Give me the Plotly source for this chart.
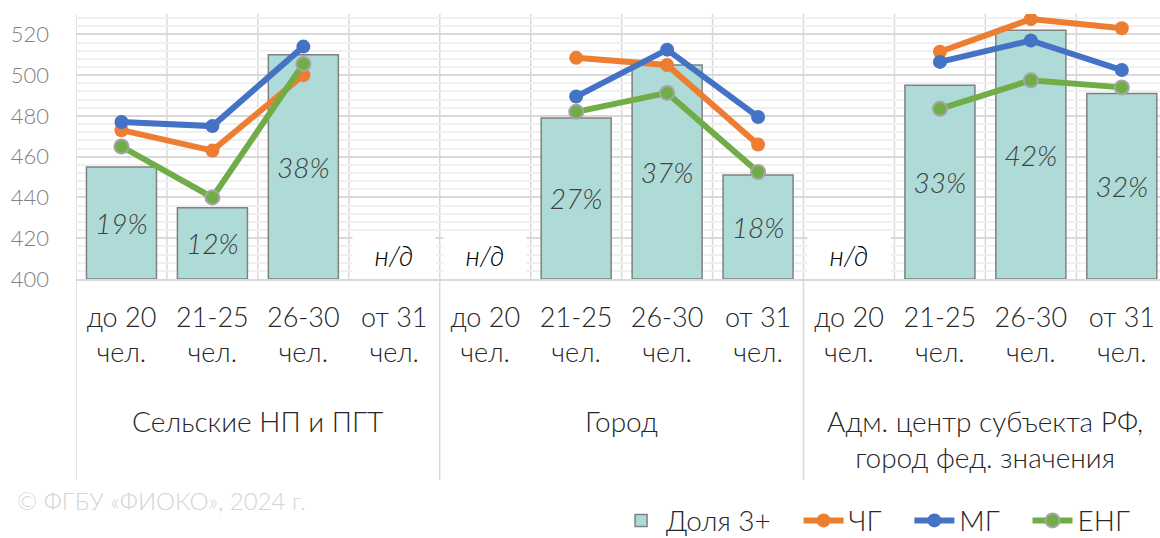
import plotly.graph_objects as go

# ---------------- data ----------------
groups = ["Сельские НП и ПГТ", "Город", "Адм. центр субъекта РФ,<br>город фед. значения"]
sizes = ["до 20<br>чел.", "21-25<br>чел.", "26-30<br>чел.", "от 31<br>чел."]

# bar heights on the score scale (Доля 3+), None = н/д
bar_score = [455, 435, 510, None,
             None, 479, 505, 451,
             None, 495, 522, 491]
share_pct = [19, 12, 38, None,
             None, 27, 37, 18,
             None, 33, 42, 32]
chg = [473, 463, 500, None,
       None, 508.5, 505, 466,
       None, 511.5, 527.5, 523]
mg = [477, 475, 514, None,
      None, 489.5, 512.5, 479.5,
      None, 506.5, 517, 502.5]
eng = [465, 440, 505.5, None,
       None, 482, 491.3, 452.5,
       None, 483.5, 497.5, 494]

series_names = ["Доля 3+", "ЧГ", "МГ", "ЕНГ"]
NA_TEXT = "н/д"
BASE = 400

FONT = "Lato"
TXT = "#262626"
GRID = "#d9d9d9"
PAD = "\u00a0\u00a0\u00a0"   # extra legend spacing

n_cat = len(groups) * len(sizes)
xs = list(range(n_cat))
tick_text = [s for _ in groups for s in sizes]

fig = go.Figure()

fig.add_trace(go.Bar(
    x=xs,
    y=[(v - BASE) if v is not None else None for v in bar_score],
    base=BASE,
    name=series_names[0] + PAD,
    width=0.77,
    marker=dict(color="#aedbd7", line=dict(color="#808080", width=1.5)),
    text=[f"{p}%" if p is not None else "" for p in share_pct],
    textposition="inside",
    insidetextanchor="middle",
    constraintext="none",
    textangle=0,
    textfont=dict(family=FONT, size=28, color="#404040", style="italic", weight=300),
    hoverinfo="skip",
))

line_specs = [
    (series_names[1], chg, "#ed7d31", None),
    (series_names[2], mg, "#4472c4", None),
    (series_names[3], eng, "#70ad47", "#a5a5a5"),
]
for k, (name, vals, col, mline) in enumerate(line_specs):
    fig.add_trace(go.Scatter(
        x=xs, y=vals, name=name + (PAD if k < 2 else ""), mode="lines+markers",
        connectgaps=False,
        line=dict(color=col, width=6),
        marker=dict(size=14, color=col,
                    line=dict(color=mline if mline else col, width=2 if mline else 0)),
    ))

# н/д labels
for i, v in enumerate(bar_score):
    if v is None:
        fig.add_annotation(
            x=i, y=412, xref="x", yref="y", text=NA_TEXT, showarrow=False,
            bgcolor="white", width=80, height=35,
            font=dict(family=FONT, size=28, color="#000000", style="italic", weight=300),
        )

# vertical gridlines at category boundaries, group dividers extend down
per = len(sizes)
for b in range(n_cat + 1):
    xb = b - 0.5
    is_group = (b % per == 0)
    fig.add_shape(type="line", xref="x", yref="paper", x0=xb, x1=xb,
                  y0=-0.758 if is_group else 0, y1=1,
                  line=dict(color=GRID, width=1.5), layer="below")

# group labels
for gi, g in enumerate(groups):
    fig.add_annotation(
        x=gi * per + (per - 1) / 2, y=-0.466, xref="x", yref="paper",
        text=g, showarrow=False, yanchor="top", align="center",
        font=dict(family=FONT, size=28, color=TXT, weight=300),
    )

# watermark
fig.add_annotation(
    x=-0.0563, y=-0.898, xref="paper", yref="paper", xanchor="left",
    text="© ФГБУ «ФИОКО», 2024 г.", showarrow=False,
    font=dict(family=FONT, size=24, color="#d4d4d4", weight=300),
)

fig.update_layout(
    width=1160, height=538,
    margin=dict(l=76, r=0, t=14, b=259, autoexpand=False),
    paper_bgcolor="white", plot_bgcolor="white",
    font=dict(family=FONT, color=TXT, weight=300),
    showlegend=True,
    legend=dict(orientation="h", x=0.977, xanchor="right", y=-0.912, yanchor="middle",
                font=dict(family=FONT, size=28, color=TXT, weight=300),
                itemwidth=40, tracegroupgap=0, bgcolor="rgba(0,0,0,0)"),
    xaxis=dict(
        range=[-0.5, 11.42], tickmode="array", tickvals=xs, ticktext=tick_text,
        showgrid=False, zeroline=False, showline=True, linecolor=GRID, linewidth=1.5,
        ticks="", ticklabelstandoff=14, ticklabeloverflow="allow", automargin=False,
        tickfont=dict(family=FONT, size=27, color=TXT, weight=300),
    ),
    yaxis=dict(
        range=[400, 530], tickmode="array", tickvals=[400, 420, 440, 460, 480, 500, 520],
        showgrid=True, gridcolor=GRID, gridwidth=1.5, zeroline=False, showline=False,
        ticks="", ticklabelstandoff=26, automargin=False,
        tickfont=dict(family=FONT, size=22, color="#808080", weight=300),
        minor=dict(dtick=4, tick0=400, showgrid=True, gridcolor="#f0f0f0", gridwidth=1.5),
    ),
)

fig.write_html(
    "out.html",
    config={"displayModeBar": False},
    post_script="document.body.style.margin='0';document.body.style.overflow='hidden';",
)
